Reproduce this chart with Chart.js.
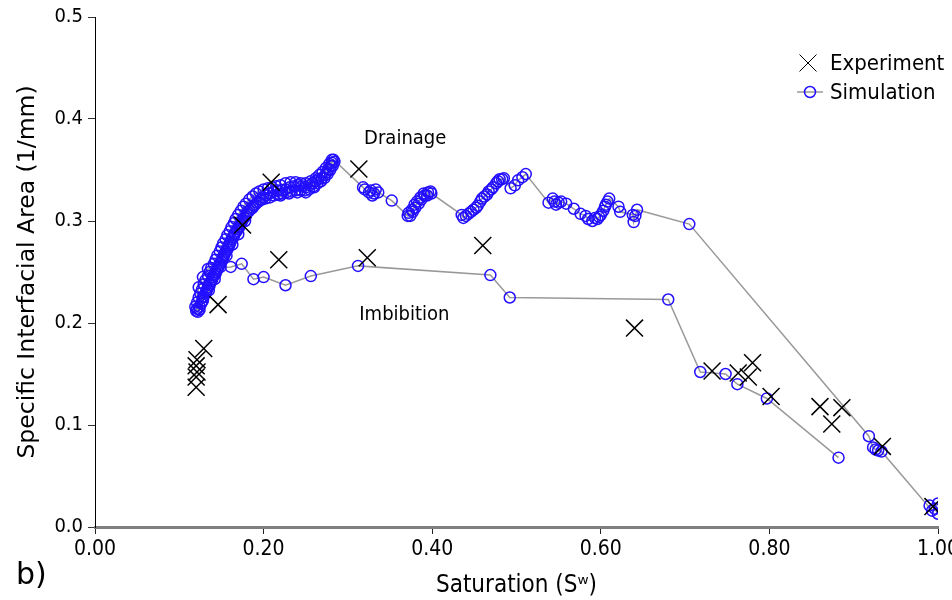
<!DOCTYPE html>
<html>
<head>
<meta charset="utf-8">
<script src="https://cdn.jsdelivr.net/npm/chart.js@4.4.1/dist/chart.umd.min.js"></script>
<style>
    html, body { margin: 0; padding: 0; background: #fff; overflow: hidden; }
    #wrap { position: relative; width: 1000px; height: 600px; }
    #panel { position: absolute; left: 16px; top: 556px; font: 30px 'DejaVu Sans', sans-serif; color: #000; }
</style>
</head>
<body>
<div id="wrap">
    <canvas id="chart" width="1000" height="600"></canvas>
    <div id="panel">b)</div>
</div>
<script>
// [saturation, specific interfacial area]
// drainage: water saturation falling from 1.0 down to ~0.12
const drainagePoints = [
    [1.000, 0.013], [0.996, 0.018], [1.000, 0.023], [0.990, 0.021], [0.993, 0.016],
    [0.933, 0.074], [0.929, 0.075], [0.926, 0.076], [0.923, 0.078], [0.918, 0.089],
    [0.705, 0.297],
    [0.643, 0.311], [0.641, 0.305], [0.639, 0.299], [0.638, 0.306], [0.623, 0.309], [0.621, 0.314],
    [0.610, 0.322], [0.608, 0.319], [0.606, 0.316], [0.605, 0.314], [0.603, 0.310], [0.600, 0.306],
    [0.598, 0.304], [0.596, 0.302], [0.593, 0.303], [0.590, 0.300], [0.585, 0.302], [0.582, 0.305],
    [0.576, 0.307], [0.568, 0.312], [0.559, 0.317], [0.553, 0.319], [0.550, 0.318], [0.547, 0.316],
    [0.545, 0.319], [0.543, 0.322], [0.538, 0.318],
    [0.511, 0.346], [0.507, 0.343], [0.502, 0.340], [0.498, 0.335], [0.493, 0.332],
    [0.485, 0.342], [0.483, 0.341], [0.480, 0.341], [0.478, 0.339], [0.476, 0.337], [0.472, 0.333],
    [0.470, 0.331], [0.467, 0.329], [0.465, 0.326], [0.462, 0.324], [0.459, 0.322], [0.457, 0.319],
    [0.454, 0.315], [0.452, 0.313], [0.449, 0.311], [0.446, 0.309], [0.443, 0.307], [0.440, 0.305],
    [0.437, 0.303], [0.435, 0.306],
    [0.399, 0.327], [0.398, 0.329], [0.395, 0.328], [0.394, 0.325], [0.391, 0.325], [0.390, 0.327],
    [0.387, 0.321], [0.386, 0.323], [0.384, 0.317], [0.382, 0.319], [0.380, 0.313], [0.379, 0.316],
    [0.377, 0.309], [0.376, 0.311], [0.374, 0.305], [0.372, 0.308], [0.371, 0.305],
    [0.352, 0.320],
    [0.336, 0.328], [0.333, 0.331], [0.331, 0.327], [0.329, 0.325], [0.327, 0.330], [0.325, 0.328],
    [0.320, 0.331], [0.318, 0.333],
    // dense band, centre
    [0.283, 0.360], [0.281, 0.357], [0.280, 0.354], [0.277, 0.351], [0.275, 0.348], [0.273, 0.345],
    [0.269, 0.342], [0.265, 0.341], [0.262, 0.339], [0.260, 0.333], [0.258, 0.337], [0.255, 0.335],
    [0.250, 0.333], [0.250, 0.328], [0.245, 0.334], [0.241, 0.335], [0.240, 0.328], [0.236, 0.334],
    [0.231, 0.333], [0.230, 0.327], [0.226, 0.331], [0.222, 0.330], [0.220, 0.325], [0.217, 0.330],
    [0.212, 0.329], [0.207, 0.327], [0.203, 0.325], [0.199, 0.323], [0.196, 0.321], [0.192, 0.318],
    [0.188, 0.315], [0.185, 0.312], [0.181, 0.309], [0.179, 0.305], [0.178, 0.300], [0.175, 0.301],
    [0.173, 0.297], [0.171, 0.294], [0.170, 0.287], [0.168, 0.290], [0.165, 0.286], [0.163, 0.277],
    [0.162, 0.282], [0.160, 0.278], [0.158, 0.274], [0.156, 0.266], [0.155, 0.270], [0.153, 0.266],
    [0.151, 0.262], [0.149, 0.255], [0.148, 0.258], [0.146, 0.254], [0.143, 0.250], [0.142, 0.243],
    [0.141, 0.247], [0.139, 0.243], [0.136, 0.239], [0.135, 0.232], [0.134, 0.235], [0.132, 0.231],
    [0.129, 0.226], [0.128, 0.222], [0.127, 0.221], [0.124, 0.216], [0.122, 0.211], [0.121, 0.214],
    [0.120, 0.212],
    // dense band, lower edge going back up
    [0.124, 0.213], [0.126, 0.219], [0.128, 0.225], [0.131, 0.229], [0.133, 0.233], [0.136, 0.237],
    [0.138, 0.241], [0.140, 0.245], [0.143, 0.248], [0.145, 0.252], [0.147, 0.256], [0.150, 0.260],
    [0.152, 0.264], [0.154, 0.268], [0.157, 0.272], [0.159, 0.276], [0.161, 0.280], [0.164, 0.284],
    [0.166, 0.288], [0.169, 0.292], [0.172, 0.295], [0.174, 0.299], [0.177, 0.303], [0.180, 0.307],
    [0.183, 0.310], [0.187, 0.313], [0.190, 0.316], [0.194, 0.319], [0.198, 0.321],
    [0.202, 0.322], [0.207, 0.323], [0.212, 0.325], [0.217, 0.326], [0.222, 0.327], [0.227, 0.328],
    [0.233, 0.329], [0.238, 0.330], [0.244, 0.330], [0.249, 0.330], [0.254, 0.331], [0.259, 0.334],
    [0.264, 0.337], [0.268, 0.339], [0.272, 0.342], [0.276, 0.346], [0.279, 0.350], [0.282, 0.354],
    // dense band, upper edge going down
    [0.284, 0.358], [0.281, 0.360], [0.278, 0.356], [0.274, 0.352], [0.270, 0.348], [0.266, 0.345],
    [0.262, 0.342], [0.256, 0.339], [0.250, 0.337], [0.244, 0.337], [0.238, 0.338], [0.232, 0.338],
    [0.226, 0.337], [0.220, 0.335], [0.215, 0.334], [0.210, 0.333], [0.205, 0.332], [0.200, 0.331],
    [0.195, 0.329], [0.191, 0.327], [0.187, 0.324], [0.183, 0.321], [0.179, 0.317], [0.176, 0.314],
    [0.173, 0.310], [0.170, 0.306], [0.167, 0.302], [0.165, 0.298], [0.162, 0.294], [0.160, 0.290],
    [0.157, 0.286], [0.155, 0.282], [0.152, 0.278], [0.150, 0.274], [0.148, 0.270], [0.145, 0.266],
    [0.143, 0.262], [0.141, 0.258], [0.138, 0.254], [0.136, 0.250], [0.134, 0.246], [0.131, 0.242],
    [0.129, 0.238], [0.127, 0.233], [0.125, 0.229], [0.123, 0.225], [0.121, 0.220], [0.119, 0.216]
];

// imbibition: water saturation rising again
const imbibitionPoints = [
    [0.123, 0.235], [0.128, 0.245], [0.134, 0.253], [0.161, 0.255], [0.174, 0.258], [0.188, 0.243],
    [0.200, 0.245], [0.226, 0.237], [0.256, 0.246], [0.312, 0.256], [0.469, 0.247], [0.492, 0.225],
    [0.680, 0.223], [0.718, 0.152], [0.748, 0.150], [0.762, 0.140], [0.797, 0.126], [0.882, 0.068]
];

const experimentPoints = [
    [0.120, 0.137], [0.120, 0.147], [0.121, 0.152], [0.120, 0.158], [0.121, 0.164], [0.129, 0.175],
    [0.146, 0.218], [0.175, 0.296], [0.209, 0.338], [0.218, 0.262], [0.313, 0.351], [0.323, 0.264],
    [0.460, 0.276], [0.640, 0.195], [0.732, 0.153], [0.763, 0.151], [0.775, 0.147], [0.780, 0.161],
    [0.802, 0.128], [0.860, 0.118], [0.874, 0.101], [0.886, 0.117], [0.934, 0.079], [0.994, 0.020]
];

const xTickLabels = ['0.00', '0.20', '0.40', '0.60', '0.80', '1.00'];
const yTickLabels = ['0.0', '0.1', '0.2', '0.3', '0.4', '0.5'];

const COND = "'DejaVu Sans Condensed', 'DejaVu Sans', sans-serif";
const BLUE = 'rgb(35, 15, 255)';

function toXY(list) {
    return list.map(p => ({ x: p[0], y: p[1] }));
}

const notesPlugin = {
    id: 'notes',
    afterDatasetsDraw(chart) {
        const ctx = chart.ctx;
        const x = chart.scales.x;
        const y = chart.scales.y;
        ctx.save();
        ctx.fillStyle = '#000';
        ctx.font = '20px ' + COND;
        ctx.textAlign = 'center';
        ctx.textBaseline = 'middle';
        ctx.fillText('Drainage', x.getPixelForValue(0.368), y.getPixelForValue(0.381));
        ctx.fillText('Imbibition', x.getPixelForValue(0.367), y.getPixelForValue(0.208));

        // legend
        ctx.textAlign = 'left';
        ctx.font = '22px ' + COND;
        ctx.strokeStyle = '#000';
        Chart.helpers.drawPoint(ctx, { pointStyle: 'crossRot', radius: 12, borderWidth: 1.5 }, 808, 63);
        ctx.fillText('Experiment', 830, 64);

        ctx.lineWidth = 1.5;
        ctx.strokeStyle = '#999';
        ctx.beginPath();
        ctx.moveTo(797, 92);
        ctx.lineTo(823, 92);
        ctx.stroke();
        ctx.strokeStyle = BLUE;
        ctx.beginPath();
        ctx.arc(810, 92, 5.5, 0, Math.PI * 2);
        ctx.stroke();
        ctx.fillText('Simulation', 830, 93);
        ctx.restore();
    }
};

const ctx = document.getElementById('chart').getContext('2d');
new Chart(ctx, {
    type: 'scatter',
    data: {
        datasets: [
            {
                label: 'Experiment',
                data: toXY(experimentPoints),
                pointStyle: 'crossRot',
                pointRadius: 12,
                pointBorderWidth: 1.5,
                pointBorderColor: '#000',
                showLine: false
            },
            {
                label: 'Simulation',
                data: toXY(drainagePoints.concat(imbibitionPoints)),
                showLine: true,
                borderColor: '#999',
                borderWidth: 1.5,
                pointStyle: 'circle',
                pointRadius: 5.5,
                pointBorderWidth: 1.5,
                pointBorderColor: BLUE,
                pointBackgroundColor: 'rgba(0,0,0,0)'
            }
        ]
    },
    options: {
        responsive: false,
        animation: false,
        layout: { padding: { left: 0, right: 62, top: 17, bottom: 0 } },
        plugins: {
            legend: { display: false },
            tooltip: { enabled: false }
        },
        scales: {
            x: {
                type: 'linear',
                min: 0,
                max: 1,
                ticks: {
                    stepSize: 0.2,
                    autoSkip: false,
                    maxRotation: 0,
                    padding: 3,
                    color: '#000',
                    font: { family: COND, size: 21 },
                    callback: (v, i) => xTickLabels[i]
                },
                grid: { drawOnChartArea: false, drawTicks: true, tickLength: 7, color: '#222' },
                border: { color: '#7f7f7f', width: 3 },
                title: {
                    display: true,
                    text: 'Saturation (Sʷ)',
                    color: '#000',
                    font: { family: COND, size: 24 },
                    padding: { top: 0, bottom: 0 }
                },
                afterFit(scale) { scale.height = 73; }
            },
            y: {
                min: 0,
                max: 0.5,
                ticks: {
                    stepSize: 0.1,
                    padding: 5,
                    color: '#000',
                    font: { family: COND, size: 20 },
                    callback: (v, i) => yTickLabels[i]
                },
                grid: { drawOnChartArea: false, drawTicks: true, tickLength: 7, color: '#333' },
                border: { color: '#000', width: 1 },
                title: {
                    display: true,
                    text: 'Specific Interfacial Area (1/mm)',
                    color: '#000',
                    font: { family: 'DejaVu Sans', size: 23.5 },
                    padding: { top: 14, bottom: 0 }
                },
                afterFit(scale) { scale.width = 95; }
            }
        }
    },
    plugins: [notesPlugin]
});
</script>
</body>
</html>
